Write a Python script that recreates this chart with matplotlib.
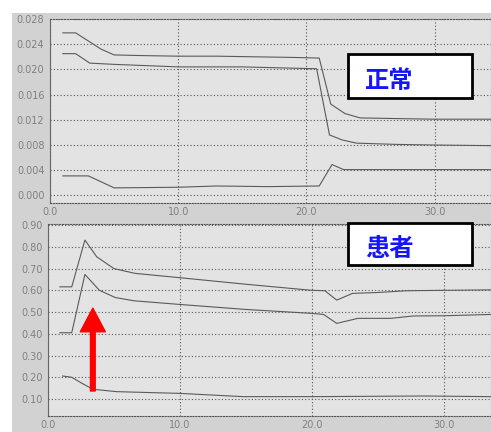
import matplotlib
matplotlib.use("Agg")
import matplotlib.pyplot as plt
from matplotlib.patches import Rectangle

plt.rcParams['font.family'] = ['DejaVu Sans']

# ---- 正常 (normal) panel series ----
normal_upper_x = [1.0, 2.0, 3.0, 4.0, 5.0, 7.0, 10.0, 13.0, 16.0, 19.0, 21.0, 21.9, 23.0, 24.2, 27.0, 30.0, 34.4]
normal_upper_y = [0.0258, 0.0258, 0.0245, 0.0232, 0.0223, 0.0222, 0.0221, 0.0221, 0.0220, 0.0219, 0.0218,
                  0.0145, 0.0130, 0.0123, 0.0122, 0.0121, 0.0121]
normal_mid_x = [1.0, 2.0, 3.1, 5.0, 10.0, 15.0, 20.8, 21.8, 22.8, 23.9, 27.0, 30.0, 34.4]
normal_mid_y = [0.0225, 0.0225, 0.0210, 0.0208, 0.0204, 0.0204, 0.0201, 0.0096, 0.0088, 0.0083, 0.0081, 0.0080, 0.0079]
normal_low_x = [1.0, 3.0, 5.0, 10.0, 13.0, 17.0, 21.0, 22.0, 22.9, 27.0, 34.4]
normal_low_y = [0.0031, 0.0031, 0.0012, 0.0013, 0.0015, 0.0014, 0.0015, 0.0049, 0.0041, 0.0041, 0.0041]

# ---- 患者 (patient) panel series ----
patient_upper_x = [0.9, 1.8, 2.8, 3.7, 5.0, 6.6, 10.0, 15.0, 20.0, 21.0, 21.9, 23.1, 25.0, 27.2, 30.0, 33.6]
patient_upper_y = [0.616, 0.616, 0.831, 0.754, 0.700, 0.678, 0.658, 0.628, 0.600, 0.598, 0.555, 0.586,
                   0.590, 0.598, 0.600, 0.602]
patient_mid_x = [0.9, 1.8, 2.8, 3.9, 5.1, 6.5, 10.0, 15.0, 20.0, 20.9, 21.9, 23.5, 26.0, 27.7, 30.0, 33.6]
patient_mid_y = [0.405, 0.405, 0.673, 0.600, 0.567, 0.552, 0.535, 0.512, 0.494, 0.489, 0.448, 0.471,
                 0.471, 0.482, 0.483, 0.489]
patient_low_x = [1.1, 1.8, 2.5, 3.4, 5.2, 10.0, 14.8, 20.0, 28.6, 33.6]
patient_low_y = [0.206, 0.200, 0.175, 0.145, 0.134, 0.126, 0.111, 0.111, 0.114, 0.111]

x_ticks = [0.0, 10.0, 20.0, 30.0]
normal_yticks = [0.000, 0.004, 0.008, 0.012, 0.016, 0.020, 0.024, 0.028]
patient_yticks = [0.10, 0.20, 0.30, 0.40, 0.50, 0.60, 0.70, 0.80, 0.90]
labels = ["正常", "患者"]

W, H = 491, 432
fig = plt.figure(figsize=(W / 100, H / 100), dpi=100)
fig.patch.set_facecolor('white')

# halftone-grey page area, kept behind the axes
fig.patches.append(Rectangle((12 / W, 0), 1 - 12 / W, (H - 13) / H, transform=fig.transFigure,
                             facecolor='#d2d2d2', edgecolor='none', zorder=-10))


def px_axes(left, top, right, bottom):
    return fig.add_axes([left / W, (H - bottom) / H, (right - left) / W, (bottom - top) / H])


ax1 = px_axes(50, 19, 491, 203)
ax2 = px_axes(48, 224, 491, 416)

line_kw = dict(color='#5a5a5a', lw=0.8)
ax1.plot(normal_upper_x, normal_upper_y, **line_kw)
ax1.plot(normal_mid_x, normal_mid_y, **line_kw)
ax1.plot(normal_low_x, normal_low_y, **line_kw)
ax1.set_xlim(0, 34.4)
ax1.set_ylim(-0.0012, 0.028)
ax1.set_yticks(normal_yticks)
ax1.set_yticklabels([f"{v:.3f}" for v in normal_yticks])

ax2.plot(patient_upper_x, patient_upper_y, **line_kw)
ax2.plot(patient_mid_x, patient_mid_y, **line_kw)
ax2.plot(patient_low_x, patient_low_y, **line_kw)
ax2.set_xlim(0, 33.6)
ax2.set_ylim(0.022, 0.905)
ax2.set_yticks(patient_yticks)
ax2.set_yticklabels([f"{v:.2f}" for v in patient_yticks])

for ax in (ax1, ax2):
    ax.set_facecolor('#e3e3e3')
    ax.set_xticks(x_ticks)
    ax.set_xticklabels([f"{v:.1f}" for v in x_ticks])
    ax.tick_params(length=0, labelsize=7, labelcolor='#808080', pad=4)
    ax.tick_params(axis='x', pad=3)
    ax.grid(True, color='#555555', lw=0.8, ls=(0, (1, 2)))
    ax.set_axisbelow(True)
    for side in ('top', 'bottom', 'right'):
        ax.spines[side].set_color('#555555')
        ax.spines[side].set_linestyle((0, (1, 1.5)))
        ax.spines[side].set_linewidth(0.8)
    ax.spines['left'].set_color('#666666')
    ax.spines['left'].set_linewidth(0.8)

# red arrow marking the rise in the patient curves
ax2.annotate('', xy=(3.4, 0.518), xytext=(3.4, 0.137),
             arrowprops=dict(facecolor='#ff0000', edgecolor='#ff0000', width=3.4,
                             headwidth=18, headlength=17, shrink=0))

# label boxes
for (top, bottom, ty), text in zip([(54, 98, 81), (223, 265, 249)], labels):
    fig.patches.append(Rectangle((348 / W, (H - bottom) / H), (472 - 348) / W, (bottom - top) / H,
                                 transform=fig.transFigure, facecolor='white', edgecolor='black',
                                 lw=2, zorder=5))
    fig.text(365 / W, (H - ty) / H, text, fontsize=17.5, fontweight='bold', color='#1414ff',
             family=['Noto Sans CJK SC', 'DejaVu Sans'], ha='left', va='center', zorder=6)

fig.savefig('out.png', dpi=100)
